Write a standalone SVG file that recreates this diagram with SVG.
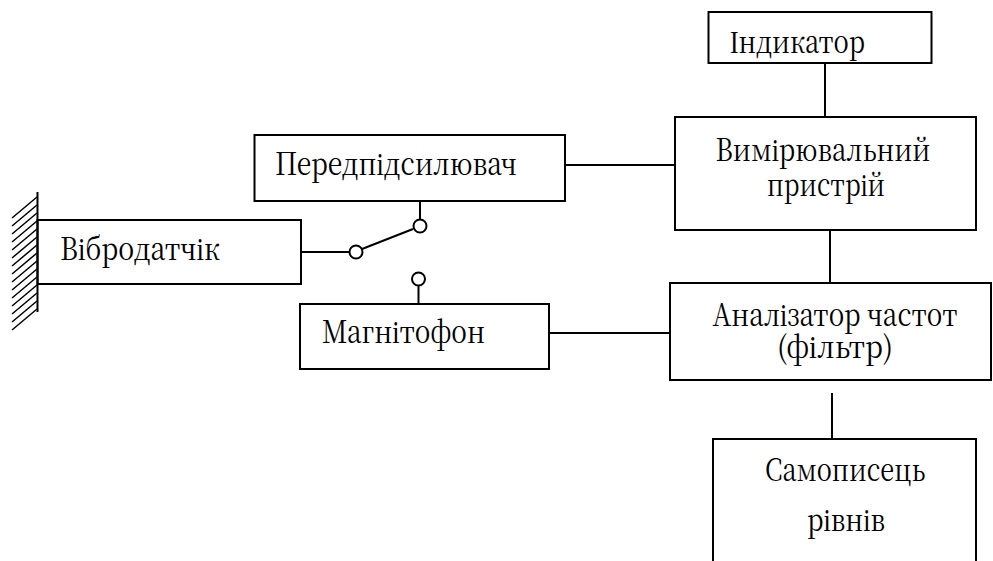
<svg xmlns="http://www.w3.org/2000/svg" width="993" height="561" viewBox="0 0 993 561">
<style>
.b{fill:none;stroke:#000;stroke-width:2}
.c{fill:#fff;stroke:#000;stroke-width:2}
.t{font-family:"Noto Sans CJK SC";font-family:"Noto Serif CJK SC","Liberation Serif",serif;font-size:31px;fill:#000}
.m{text-anchor:middle}
</style>
<rect width="993" height="561" fill="#fff"/>
<g id="wall" stroke="#000" fill="none">
<line stroke-width="2" x1="37.5" y1="192" x2="37.5" y2="312"/>
<path stroke-width="1.5" d="M12,218 L37,197 M12,226 L37,205 M12,234 L37,213 M12,242 L37,221 M12,250 L37,229 M12,258 L37,237 M12,266 L37,245 M12,274 L37,253 M12,282 L37,261 M12,290 L37,269 M12,298 L37,277 M12,306 L37,285 M12,314 L37,293 M12,322 L37,301 M12,330 L37,309"/>
</g>
<g id="connectors">
<line class="b" x1="301" y1="252" x2="349.5" y2="252"/>
<line class="b" x1="362" y1="249" x2="413" y2="229"/>
<line class="b" x1="420" y1="201" x2="420" y2="219.5"/>
<line class="b" x1="418.5" y1="285.5" x2="418.5" y2="304"/>
<line class="b" x1="565" y1="165" x2="675" y2="165"/>
<line class="b" x1="549" y1="333" x2="670" y2="333"/>
<line class="b" x1="825" y1="63" x2="825" y2="117"/>
<line class="b" x1="830" y1="230" x2="830" y2="283"/>
<line class="b" x1="832" y1="393" x2="832" y2="439"/>
<circle class="c" cx="356" cy="252" r="6.5"/>
<circle class="c" cx="420" cy="226" r="6.5"/>
<circle class="c" cx="418.5" cy="279" r="6.5"/>
</g>
<g id="vibro">
<rect class="b" x="37.5" y="220" width="263.5" height="64"/>
<text class="t" x="60" y="260" textLength="160" lengthAdjust="spacingAndGlyphs">Вібродатчік</text>
</g>
<g id="preamp">
<rect class="b" x="254.5" y="135" width="310.5" height="66"/>
<text class="t" x="275" y="175" textLength="242" lengthAdjust="spacingAndGlyphs">Передпідсилювач</text>
</g>
<g id="recorder">
<rect class="b" x="300" y="304" width="249" height="65"/>
<text class="t" x="322" y="343" textLength="163" lengthAdjust="spacingAndGlyphs">Магнітофон</text>
</g>
<g id="indicator">
<rect class="b" x="708.5" y="12" width="223" height="51"/>
<text class="t" x="730" y="53" textLength="135" lengthAdjust="spacingAndGlyphs">Індикатор</text>
</g>
<g id="meter">
<rect class="b" x="675" y="117" width="301" height="113"/>
<text class="t m" x="823" y="161" textLength="215" lengthAdjust="spacingAndGlyphs">Вимірювальний</text>
<text class="t m" x="826" y="196" textLength="118" lengthAdjust="spacingAndGlyphs">пристрій</text>
</g>
<g id="analyzer">
<rect class="b" x="670" y="283" width="321" height="97"/>
<text class="t m" x="835" y="326" textLength="245" lengthAdjust="spacingAndGlyphs">Аналізатор частот</text>
<text class="t m" x="835" y="358" textLength="116" lengthAdjust="spacingAndGlyphs">(фільтр)</text>
</g>
<g id="plotter">
<path class="b" d="M713,562 V439 H976 V562"/>
<text class="t m" x="845" y="481" textLength="160" lengthAdjust="spacingAndGlyphs">Самописець</text>
<text class="t m" x="846" y="531" textLength="78" lengthAdjust="spacingAndGlyphs">рівнів</text>
</g>
</svg>
